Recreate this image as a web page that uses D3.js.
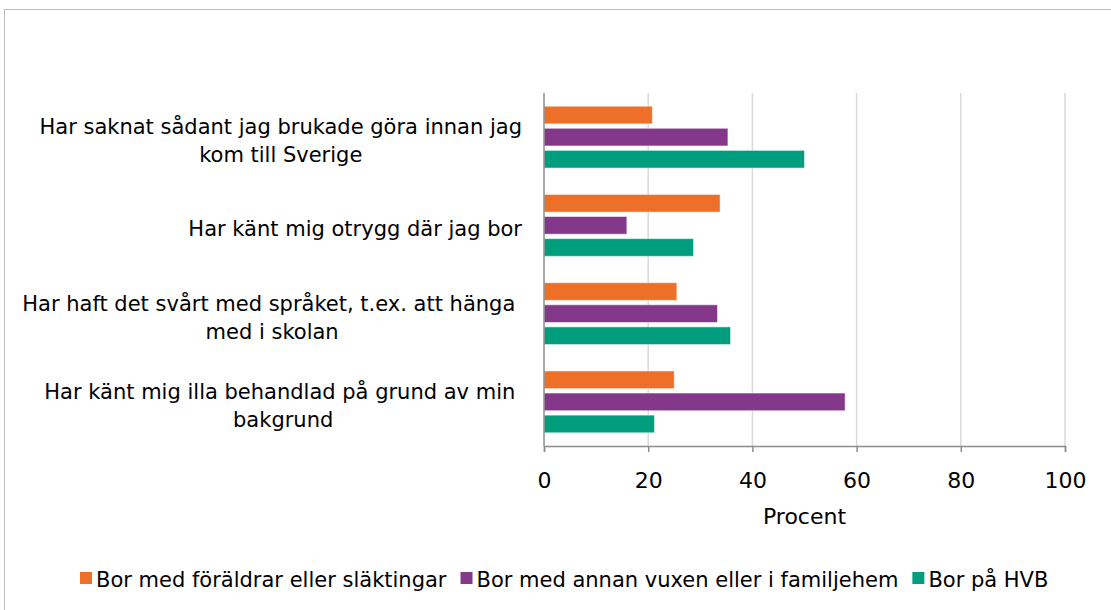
<!DOCTYPE html>
<html>
<head>
<meta charset="utf-8">
<script src="https://cdn.jsdelivr.net/npm/d3@7"></script>
<style>
  body { margin: 0; background: #fff; }
  text { font-family: "DejaVu Sans", Verdana, sans-serif; fill: #000; }
</style>
</head>
<body>
<script>
'use strict';

// categories (each split into display lines)
const categories = [
    ["Har saknat sådant jag brukade göra innan jag", "kom till Sverige"],
    ["Har känt mig otrygg där jag bor"],
    ["Har haft det svårt med språket, t.ex. att hänga\u00a0", "med i skolan"],
    ["Har känt mig illa behandlad på grund av min\u00a0", "bakgrund"]
]
const seriesNames = ["Bor med föräldrar eller släktingar", "Bor med annan vuxen eller i familjehem", "Bor på HVB"]
const foraldrar = [20.8, 33.8, 25.5, 25.0]
const annanVuxen = [35.3, 15.9, 33.3, 57.8]
const hvb = [50.0, 28.7, 35.8, 21.2]
const xTicks = [0, 20, 40, 60, 80, 100]
const colors = ["#EE7028", "#84388A", "#009E7E"]

const W = 1111, H = 610
const plot = { left: 544, right: 1065, top: 93, bottom: 446 }

let svg = d3.select("body").append("svg")
    .attr("width", W)
    .attr("height", H)

// outer frame
svg.append("rect")
    .attr("x", 4.5).attr("y", 9.5)
    .attr("width", W).attr("height", H)
    .attr("fill", "none")
    .attr("stroke", "#bfbfbf")

let x = d3.scaleLinear().domain([0, 100]).range([plot.left, plot.right])
let y = d3.scaleBand().domain(d3.range(categories.length)).range([plot.top, plot.bottom])
let inner = d3.scaleBand().domain(d3.range(3)).range([11, y.bandwidth() - 11]).paddingInner(0.2).paddingOuter(0.1)

// gridlines
svg.append("g")
    .selectAll("line")
    .data(xTicks.slice(1))
    .enter()
    .append("line")
    .attr("x1", d => x(d)).attr("x2", d => x(d))
    .attr("y1", plot.top).attr("y2", plot.bottom)
    .attr("stroke", "#d9d9d9")
    .attr("stroke-width", 1.5)

// bars
const allSeries = [foraldrar, annanVuxen, hvb]
allSeries.forEach(function (vals, s) {
    svg.append("g")
        .selectAll("rect")
        .data(vals)
        .enter()
        .append("rect")
        .attr("x", x(0))
        .attr("y", (d, i) => y(i) + inner(s))
        .attr("width", d => x(d) - x(0))
        .attr("height", inner.bandwidth())
        .attr("fill", colors[s])
        .attr("stroke", "#fff")
        .attr("stroke-opacity", 0.5)
})

// x axis
let xAxis = svg.append("g")
    .attr("transform", "translate(0," + plot.bottom + ")")
    .call(d3.axisBottom(x).tickValues(xTicks).tickSize(6).tickPadding(20))
xAxis.select(".domain").attr("stroke", "#8c8c8c").attr("stroke-width", 1.5)
xAxis.selectAll(".tick line").attr("stroke", "#8c8c8c").attr("stroke-width", 1.5)
xAxis.selectAll(".tick text")
    .attr("font-size", "22px")
    .attr("font-family", "DejaVu Sans")
    .attr("fill", "#000")

// y axis line
svg.append("line")
    .attr("x1", plot.left).attr("x2", plot.left)
    .attr("y1", plot.top).attr("y2", plot.bottom)
    .attr("stroke", "#8c8c8c")
    .attr("stroke-width", 1.5)

svg.append("text")
    .attr("x", (plot.left + plot.right) / 2)
    .attr("y", 524)
    .attr("text-anchor", "middle")
    .attr("font-size", "22px")
    .text("Procent")

// category labels: block centred, right edge at labelRight
const labelRight = 522
const lineH = 28
categories.forEach(function (lines, i) {
    let g = svg.append("g")
    let texts = lines.map(function (l, j) {
        return g.append("text")
            .attr("font-size", "21px")
            .attr("text-anchor", "middle")
            .attr("y", y(i) + y.bandwidth() / 2 + 11 + (j - (lines.length - 1) / 2) * lineH)
            .text(l)
    })
    let maxW = d3.max(texts, t => t.node().getComputedTextLength())
    texts.forEach(t => t.attr("x", labelRight - maxW / 2))
})

// legend
let legend = svg.append("g")
let lx = 80
seriesNames.forEach(function (name, i) {
    legend.append("rect")
        .attr("x", lx).attr("y", 572)
        .attr("width", 12).attr("height", 12)
        .attr("fill", colors[i])
    let t = legend.append("text")
        .attr("x", lx + 16).attr("y", 587)
        .attr("font-size", "21px")
        .text(name)
    lx += 16 + t.node().getComputedTextLength() + 14
})
</script>
</body>
</html>
